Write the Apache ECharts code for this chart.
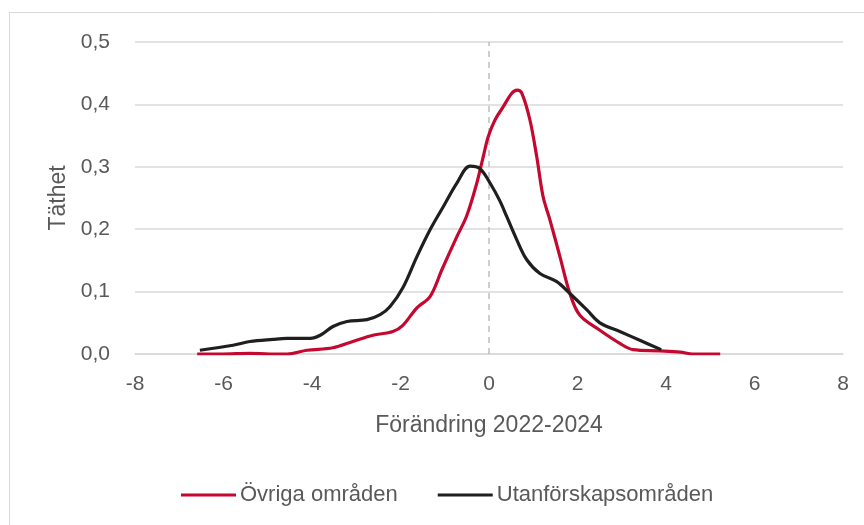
<!DOCTYPE html>
<html>
<head>
<meta charset="utf-8">
<script src="https://cdn.jsdelivr.net/npm/echarts@6/dist/echarts.min.js"></script>
<style>
html,body{margin:0;padding:0;background:#fff;}
#c{width:864px;height:525px;}
</style>
</head>
<body>
<div id="c"></div>
<script>
const xTicks = [-8, -6, -4, -2, 0, 2, 4, 6, 8];
const yTicks = [0, 0.1, 0.2, 0.3, 0.4, 0.5];

const ovrigaX = [-6.595, -6.031, -5.405, -4.954, -4.564, -4.112, -3.527, -3.076, -2.624, -2.173, -1.947, -1.629, -1.332, -1.065, -0.726, -0.501, -0.275, -0.131, -0.018, 0.135, 0.320, 0.515, 0.638, 0.741, 0.925, 1.079, 1.223, 1.377, 1.603, 1.828, 2.054, 2.506, 2.957, 3.254, 3.860, 4.321, 4.609, 5.225];
const ovrigaY = [0.0, 0.0, 0.001, 0.0, 0.0, 0.006, 0.010, 0.020, 0.030, 0.036, 0.046, 0.074, 0.092, 0.135, 0.188, 0.222, 0.274, 0.316, 0.348, 0.375, 0.396, 0.418, 0.423, 0.418, 0.375, 0.316, 0.252, 0.215, 0.156, 0.097, 0.062, 0.038, 0.017, 0.007, 0.005, 0.003, 0.0, 0.0];

const utanX = [-6.534, -5.785, -5.405, -4.882, -4.564, -4.040, -3.815, -3.527, -3.209, -2.758, -2.460, -2.235, -1.947, -1.629, -1.332, -1.034, -0.726, -0.429, -0.203, 0.023, 0.248, 0.402, 0.628, 0.854, 1.151, 1.531, 1.828, 2.208, 2.506, 2.957, 3.408, 3.891];
const utanY = [0.006, 0.014, 0.020, 0.0235, 0.025, 0.025, 0.030, 0.044, 0.052, 0.055, 0.063, 0.076, 0.106, 0.156, 0.199, 0.236, 0.274, 0.301, 0.297, 0.274, 0.245, 0.220, 0.183, 0.151, 0.129, 0.116, 0.097, 0.071, 0.050, 0.036, 0.022, 0.007];

const FONT = "'Liberation Sans', Arial, sans-serif";
const TXT = '#595959';

const zip = (xs, ys) => xs.map((x, i) => [x, ys[i]]);
const fmt = v => v.toFixed(1).replace('.', ',');

const chart = echarts.init(document.getElementById('c'), null, {renderer: 'canvas'});
chart.setOption({
  animation: false,
  backgroundColor: '#fff',
  textStyle: {fontFamily: FONT},
  graphic: [{
    type: 'rect',
    shape: {x: 9.5, y: 12.5, width: 870, height: 530},
    style: {fill: 'none', stroke: '#d9d9d9', lineWidth: 1},
    silent: true,
    z: -1
  }],
  grid: {left: 135, right: 21, top: 42, bottom: 171, containLabel: false},
  legend: {
    bottom: 14,
    left: 176,
    itemWidth: 55,
    itemHeight: 3,
    itemGap: 40,
    icon: 'rect',
    textStyle: {fontFamily: FONT, fontSize: 22, color: TXT, padding: [0, 0, 0, -1]},
    data: ['Övriga områden', 'Utanförskapsområden']
  },
  xAxis: {
    type: 'value',
    min: -8, max: 8, interval: 2,
    name: 'Förändring 2022-2024',
    nameLocation: 'middle',
    nameGap: 60,
    nameTextStyle: {fontFamily: FONT, fontSize: 23, color: TXT},
    axisLine: {show: true, onZero: false, lineStyle: {color: '#d9d9d9', width: 1.5}},
    axisTick: {show: false},
    splitLine: {show: false},
    axisLabel: {fontFamily: FONT, fontSize: 21, color: TXT, margin: 20,
      formatter: v => xTicks.includes(v) ? String(v) : ''}
  },
  yAxis: {
    type: 'value',
    min: 0, max: 0.5, interval: 0.1,
    name: 'Täthet',
    nameLocation: 'middle',
    nameGap: 63,
    nameTextStyle: {fontFamily: FONT, fontSize: 23, color: TXT},
    axisLine: {show: false},
    axisTick: {show: false},
    splitLine: {show: true, lineStyle: {color: '#d9d9d9', width: 1.5}},
    axisLabel: {fontFamily: FONT, fontSize: 21, color: TXT, margin: 25,
      formatter: v => fmt(v)}
  },
  series: [
    {
      name: 'Övriga områden',
      type: 'line',
      data: zip(ovrigaX, ovrigaY),
      smooth: 0.35,
      showSymbol: false,
      color: '#C4082F',
      lineStyle: {width: 3.2, color: '#C4082F'},
      z: 3,
      markLine: {
        silent: true,
        symbol: 'none',
        label: {show: false},
        lineStyle: {type: [6, 5], color: '#bfbfbf', width: 1.5},
        data: [{xAxis: 0}],
        z: 1
      }
    },
    {
      name: 'Utanförskapsområden',
      type: 'line',
      data: zip(utanX, utanY),
      smooth: 0.35,
      showSymbol: false,
      color: '#1f1f1f',
      lineStyle: {width: 3.2, color: '#1f1f1f'},
      z: 4
    }
  ]
});
</script>
</body>
</html>
